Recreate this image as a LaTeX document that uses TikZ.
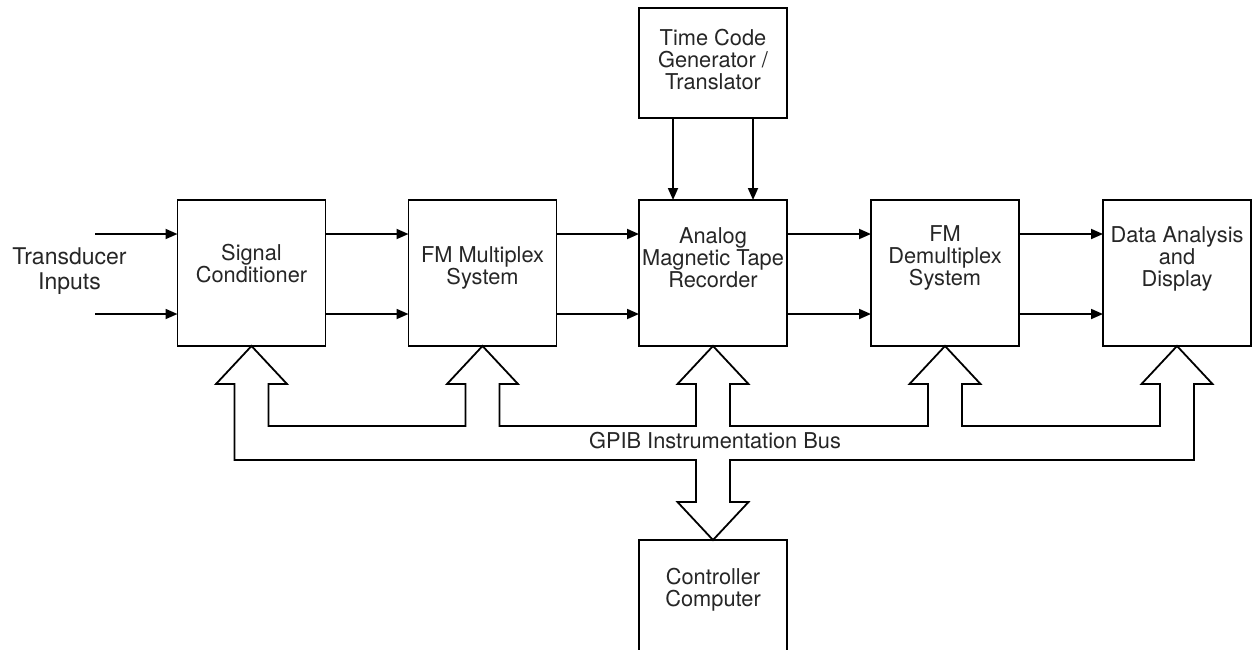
\documentclass[tikz,border=0pt]{standalone}
\usepackage{fontspec}
\setmainfont{TeX Gyre Heros}
\usetikzlibrary{arrows.meta,calc}

\begin{document}
\begin{tikzpicture}[x=1pt,y=-1pt,
  line width=1.8pt,
  box/.style={draw, minimum width=148pt, minimum height=146pt, inner sep=0pt, outer sep=0pt},
  lbl/.style={align=center, font=\fontsize{21.8}{22}\selectfont, text=black!85, inner sep=0pt},
  sig/.style={-{Triangle[length=12pt,width=10pt]}},
  bus/.style={draw, line join=miter}]

\useasboundingbox (0,0) rectangle (1252,649);
\clip (0,0) rectangle (1252,649);

% processing chain
\node[box] (sc)   at (251.5,273) {};
\node[box] (fmm)  at (482.5,273) {};
\node[box] (tape) at (713,273) {};
\node[box] (fmd)  at (945,273) {};
\node[box] (da)   at (1177,273) {};
\node[box, minimum height=110pt] (tc) at (713,63) {};
\node[minimum width=148pt, minimum height=120pt, inner sep=0pt, outer sep=0pt] (cc) at (713,600) {};
\draw (cc.south west) -- (cc.north west) -- (cc.north east) -- (cc.south east);

% box texts
\node[lbl] (sc-t)   at (251.5,264) {Signal\\Conditioner};
\node[lbl] (fmm-t)  at (482.5,267.5) {FM Multiplex\\System};
\node[lbl] (tape-t) at (713,258) {Analog\\Magnetic Tape\\Recorder};
\node[lbl] (fmd-t)  at (945,258) {FM\\Demultiplex\\System};
\node[lbl] (da-t)   at (1177,259) {Data Analysis\\and\\Display};
\node[lbl] (tc-t)   at (713,60) {Time Code\\Generator /\\Translator};
\node[lbl] (cc-t)   at (713,590) {Controller\\Computer};
\node[lbl, font=\fontsize{23}{25}\selectfont] (in-t) at (69.5,271) {Transducer\\Inputs};
\node[lbl] (bus-t)  at (715,441) {GPIB Instrumentation Bus};

% signal rows
\coordinate (r1) at (0,234);
\coordinate (r2) at (0,314);
\coordinate (in1) at (95,234);
\coordinate (in2) at (95,314);
\draw[sig] (in1) -- (sc.west |- in1);
\draw[sig] (in2) -- (sc.west |- in2);
\foreach \a/\b in {sc/fmm, fmm/tape, tape/fmd, fmd/da} {
  \draw[sig] (\a.east |- r1) -- (\b.west |- r1);
  \draw[sig] (\a.east |- r2) -- (\b.west |- r2);
}

% time code into the recorder
\draw[sig] ($(tc.south)+(-40,0)$) -- ($(tape.north)+(-40,0)$);
\draw[sig] ($(tc.south)+(40,0)$) -- ($(tape.north)+(40,0)$);

% instrumentation bus outline
\coordinate (inner) at (0,426);
\coordinate (outer) at (0,460);
\foreach \b in {sc,fmm,tape,fmd,da} {
  \coordinate (\b-ls) at ($(\b.south)+(-17,38)$);
  \coordinate (\b-lh) at ($(\b.south)+(-35.5,38)$);
  \coordinate (\b-rh) at ($(\b.south)+(35.5,38)$);
  \coordinate (\b-rs) at ($(\b.south)+(17,38)$);
}
\coordinate (cc-ls) at ($(cc.north)+(-17,-38)$);
\coordinate (cc-lh) at ($(cc.north)+(-35.5,-38)$);
\coordinate (cc-rh) at ($(cc.north)+(35.5,-38)$);
\coordinate (cc-rs) at ($(cc.north)+(17,-38)$);

\draw[bus] (sc-ls) -- (sc-ls |- outer) -- (cc-ls |- outer) -- (cc-ls) -- (cc-lh)
  -- (cc.north) -- (cc-rh) -- (cc-rs) -- (cc-rs |- outer) -- (da-rs |- outer)
  -- (da-rs) -- (da-rh) -- (da.south) -- (da-lh) -- (da-ls) -- (da-ls |- inner)
  -- (fmd-rs |- inner) -- (fmd-rs) -- (fmd-rh) -- (fmd.south) -- (fmd-lh) -- (fmd-ls) -- (fmd-ls |- inner)
  -- (tape-rs |- inner) -- (tape-rs) -- (tape-rh) -- (tape.south) -- (tape-lh) -- (tape-ls) -- (tape-ls |- inner)
  -- (fmm-rs |- inner) -- (fmm-rs) -- (fmm-rh) -- (fmm.south) -- (fmm-lh) -- (fmm-ls) -- (fmm-ls |- inner)
  -- (sc-rs |- inner) -- (sc-rs) -- (sc-rh) -- (sc.south) -- (sc-lh) -- cycle;
\end{tikzpicture}
\end{document}
